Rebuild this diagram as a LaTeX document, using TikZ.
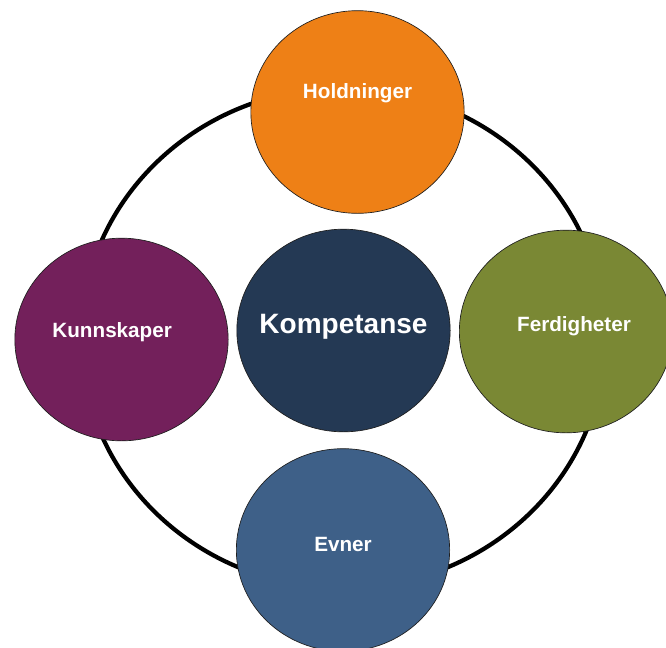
\documentclass[tikz,border=0pt]{standalone}
\usepackage{fontspec}
\setmainfont{Liberation Sans}
\usepackage{tikz}
\usetikzlibrary{shapes.geometric}

\definecolor{holdcol}{RGB}{238,128,22}
\definecolor{kunncol}{RGB}{115,32,91}
\definecolor{kompcol}{RGB}{36,57,84}
\definecolor{ferdcol}{RGB}{122,136,52}
\definecolor{evnecol}{RGB}{62,96,136}

\tikzset{
  bubble/.style={draw={rgb, 255:red, 30; green, 30; blue, 30}, line width=0.5pt, ellipse, inner sep=0pt, minimum width=160pt, minimum height=152pt},
  bubtext/.style={text=white, font=\bfseries\fontsize{15.5}{18}\selectfont, inner sep=0.75pt},
  ring/.style={line width=3.2pt}
}

\begin{document}
\begin{tikzpicture}[x=0.75pt,y=0.75pt,yscale=-1,xscale=1]
\path[use as bounding box, clip] (0,0) rectangle (666,647);

%Ring
\coordinate (ringc) at (343,338);
\draw [ring] (ringc) ellipse (262 and 250);

%Ellipses
\node [bubble, fill=holdcol] (hold) at (357.5,112) {};
\node [bubble, fill=kunncol] (kunn) at (121.5,339.5) {};
\node [bubble, fill=kompcol] (komp) at (343.5,330.5) {};
\node [bubble, fill=ferdcol] (ferd) at (566,331.5) {};
\node [bubble, fill=evnecol] (evne) at (343,550) {};

% Text Node
\node [bubtext] (holdtxt) at ([yshift=-14.25pt]hold.center) {Holdninger};
% Text Node
\node [bubtext] (kunntxt) at ([xshift=-7pt,yshift=-5.5pt]kunn.center) {Kunnskaper};
% Text Node
\node [bubtext, font=\bfseries\fontsize{21}{25}\selectfont] (komptxt) at ([yshift=-2.5pt]komp.center) {Kompetanse};
% Text Node
\node [bubtext] (ferdtxt) at ([xshift=6pt,yshift=-4pt]ferd.center) {Ferdigheter};
% Text Node
\node [bubtext] (evnetxt) at ([yshift=-4.5pt]evne.center) {Evner};

\end{tikzpicture}
\end{document}
